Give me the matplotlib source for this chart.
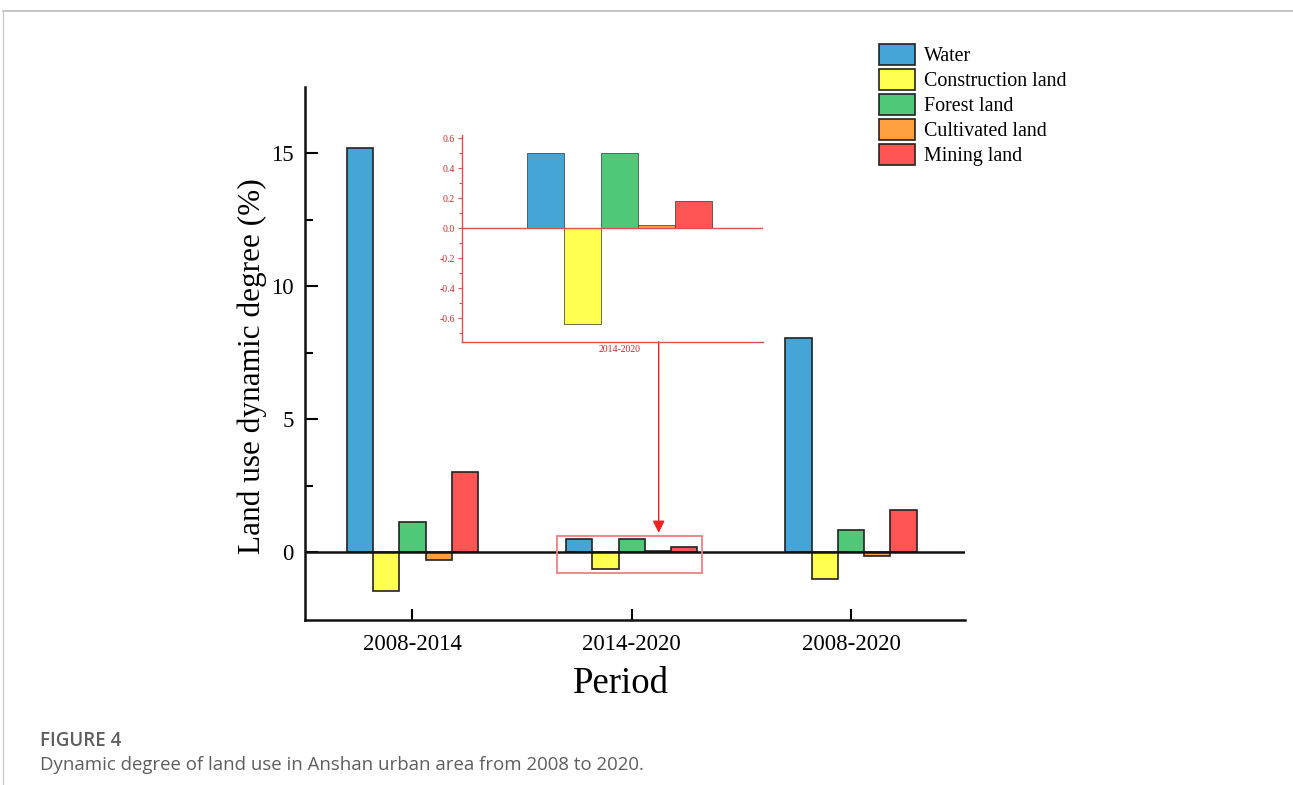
import matplotlib
matplotlib.use("Agg")
import matplotlib.pyplot as plt
import numpy as np
from matplotlib.patches import Rectangle, FancyArrowPatch
from matplotlib.lines import Line2D
from matplotlib.ticker import MultipleLocator, FixedLocator

periods = ["2008-2014", "2014-2020", "2008-2020"]
land_types = ["Water", "Construction land", "Forest land", "Cultivated land", "Mining land"]
water = [15.2, 0.50, 8.06]
construction = [-1.47, -0.64, -1.02]
forest = [1.13, 0.50, 0.83]
cultivated = [-0.30, 0.02, -0.15]
mining = [3.01, 0.18, 1.58]
series = [water, construction, forest, cultivated, mining]
colors = ["#44A5D6", "#FFFF4F", "#4FC878", "#FF9F40", "#FF5555"]

serif = ["Liberation Serif", "DejaVu Serif"]
plt.rcParams["font.family"] = serif

W, H = 1293, 785
fig = plt.figure(figsize=(W / 100, H / 100), dpi=100)

def rect(l, t, r, b):
    return [l / W, 1 - b / H, (r - l) / W, (b - t) / H]

# ---- main axes
ax = fig.add_axes(rect(305, 87, 965, 620))
x = np.arange(len(periods))
bw = 0.12
for i, (vals, c, name) in enumerate(zip(series, colors, land_types)):
    ax.bar(x + (i - 2) * bw, vals, bw, color=c, edgecolor="#222222", linewidth=1.2, label=name, zorder=2)
ax.axhline(0, color="#111111", lw=1.8, zorder=3)
ax.set_xlim(-0.49, 2.52)
ax.set_ylim(-2.56, 17.5)
ax.spines["top"].set_visible(False)
ax.spines["right"].set_visible(False)
for s in ("left", "bottom"):
    ax.spines[s].set_linewidth(1.8)
    ax.spines[s].set_color("#111111")
ax.set_xticks(x)
ax.set_xticklabels(periods, fontsize=16.5)
ax.set_yticks([0, 5, 10, 15])
ax.yaxis.set_minor_locator(FixedLocator([2.5, 7.5, 12.5]))
ax.tick_params(axis="y", labelsize=16.5, direction="in", length=9, width=1.5, pad=8)
ax.tick_params(axis="y", which="minor", direction="in", length=6, width=1.5)
ax.tick_params(axis="x", direction="in", length=8, width=1.5, pad=10)
ax.set_ylabel("Land use dynamic degree (%)", fontsize=22.5)
ax.yaxis.set_label_coords(-0.058, 0.476)
ax.set_xlabel("Period", fontsize=26.5)
ax.xaxis.set_label_coords(0.479, -0.088)

# highlight rectangle
ax.add_patch(Rectangle((0.66, -0.79), 0.66, 1.39, fill=False, edgecolor="#F08080", lw=1.3, zorder=4))
# arrow from inset to rectangle
ax.add_patch(FancyArrowPatch((1.123, 7.91), (1.123, 0.72), arrowstyle="-|>", mutation_scale=18,
                             color="#EE2020", lw=1.0, zorder=5, shrinkA=0, shrinkB=0))

# legend
handles = [Rectangle((0, 0), 1, 1, facecolor=c, edgecolor="#222222", lw=1.2) for c in colors]
fig.legend(handles, land_types, loc="upper left", bbox_to_anchor=(869 / W, 1 - 34 / H),
           frameon=False, fontsize=14.4, handlelength=1.8, handleheight=1.2,
           labelspacing=0.15, handletextpad=0.45, borderpad=0)

# ---- inset
red = "#C82828"
axi = fig.add_axes(rect(462, 135, 763, 342))
ix = np.array([0.0])
for i, (vals, c) in enumerate(zip(series, colors)):
    axi.bar(ix + (i - 2) * bw, [vals[1]], bw, color=c, edgecolor="#333333", linewidth=0.5, zorder=2)
axi.axhline(0, color="#E05050", lw=1.0, zorder=3)
axi.set_xlim(-0.51, 0.466)
axi.set_ylim(-0.76, 0.62)
axi.patch.set_alpha(0)
axi.spines["top"].set_visible(False)
axi.spines["right"].set_visible(False)
for s in ("left", "bottom"):
    axi.spines[s].set_color("#E05050")
    axi.spines[s].set_linewidth(1.0)
axi.set_xticks([0.0])
axi.set_xticklabels(["2014-2020"], fontsize=7, color=red)
axi.tick_params(axis="x", length=0, pad=2)
axi.set_yticks([-0.6, -0.4, -0.2, 0.0, 0.2, 0.4, 0.6])
axi.set_yticklabels(["-0.6", "-0.4", "-0.2", "0.0", "0.2", "0.4", "0.6"], fontsize=7, color=red)
axi.yaxis.set_minor_locator(MultipleLocator(0.1))
axi.tick_params(axis="y", which="both", direction="out", color="#E05050", length=3, width=0.8, pad=2)
axi.tick_params(axis="y", which="minor", length=2)

# ---- page frame and caption
fig.add_artist(Line2D([3 / W, 1], [1 - 11 / H, 1 - 11 / H], color="#BBBBBB", lw=1.2))
fig.add_artist(Line2D([3 / W, 3 / W], [1 - 11 / H, 0], color="#CCCCCC", lw=1.0))
fig.text(40 / W, 1 - 741 / H, "FIGURE 4", fontsize=13.5, fontweight="semibold", color="#5E5E5E",
         family=["Open Sans", "DejaVu Sans"], va="center")
fig.text(40 / W, 1 - 765 / H, "Dynamic degree of land use in Anshan urban area from 2008 to 2020.",
         fontsize=13.4, color="#5E5E5E", family=["Open Sans", "DejaVu Sans"], va="center")

fig.savefig("out.png", dpi=100)
